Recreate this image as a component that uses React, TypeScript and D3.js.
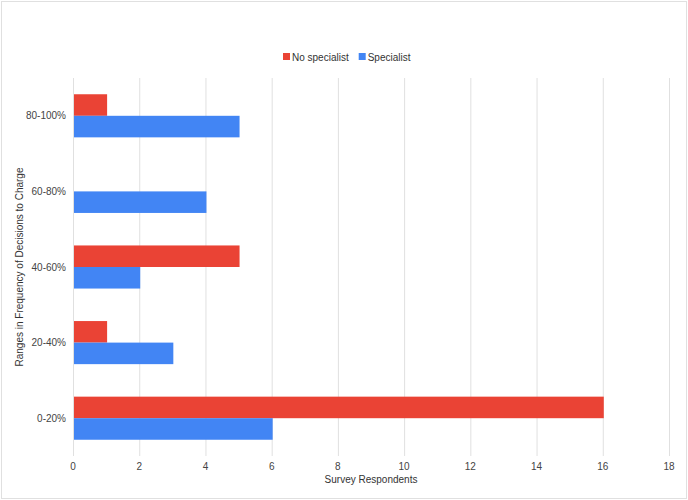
import { useEffect, useRef } from 'react';
import * as d3 from 'd3';

const categories = ['80-100%', '60-80%', '40-60%', '20-40%', '0-20%'];
const seriesNames = ['No specialist', 'Specialist'];
const noSpecialist = [1, 0, 5, 1, 16];
const specialist = [5, 4, 2, 3, 6];
const xTicks = [0, 2, 4, 6, 8, 10, 12, 14, 16, 18];
const colors = ['#ea4335', '#4285f4'];

export default function App() {
    const svgRef = useRef<SVGSVGElement | null>(null);

    useEffect(() => {
        const width = 688;
        const height = 500;
        const margin = { top: 78, right: 19, bottom: 44, left: 73 };
        const innerWidth = width - margin.left - margin.right;
        const innerHeight = height - margin.top - margin.bottom;
        const font = '"Liberation Sans", Arial, sans-serif';

        const svg = d3.select(svgRef.current);
        svg.selectAll('*').remove();

        svg.append('rect')
            .attr('x', 1.5).attr('y', 1.5)
            .attr('width', width - 3).attr('height', height - 3)
            .attr('fill', '#fff')
            .attr('stroke', '#e0e0e0');

        const g = svg.append('g').attr('transform', `translate(${margin.left},${margin.top})`);

        const xScale = d3.scaleLinear().domain([0, 18]).range([0, innerWidth]);
        const yScale = d3.scaleBand<string>()
            .domain(categories)
            .range([0, innerHeight])
            .paddingInner(0.43)
            .paddingOuter(0.215);
        const ySub = d3.scaleBand<string>()
            .domain(seriesNames)
            .range([0, yScale.bandwidth()]);

        // grid lines
        g.selectAll('.grid')
            .data(xTicks)
            .enter()
            .append('line')
            .attr('x1', d => xScale(d) + 0.5)
            .attr('x2', d => xScale(d) + 0.5)
            .attr('y1', 0)
            .attr('y2', innerHeight)
            .attr('stroke', '#e0e0e0')
            .attr('stroke-width', 1);

        // x axis tick labels
        g.selectAll('.xtick')
            .data(xTicks)
            .enter()
            .append('text')
            .attr('x', d => xScale(d))
            .attr('y', innerHeight + 14)
            .attr('text-anchor', 'middle')
            .style('font-family', font)
            .style('font-size', '10px')
            .attr('fill', '#444')
            .text(d => d);

        // y axis labels
        g.selectAll('.ytick')
            .data(categories)
            .enter()
            .append('text')
            .attr('x', -7)
            .attr('y', d => (yScale(d) ?? 0) + yScale.bandwidth() / 2)
            .attr('dy', '0.35em')
            .attr('text-anchor', 'end')
            .style('font-family', font)
            .style('font-size', '10px')
            .attr('fill', '#444')
            .text(d => d);

        const rows = categories.map((c, i) => ({
            cat: c,
            values: [
                { name: seriesNames[0], value: noSpecialist[i], color: colors[0] },
                { name: seriesNames[1], value: specialist[i], color: colors[1] },
            ],
        }));

        const groups = g.selectAll('.cat')
            .data(rows)
            .enter()
            .append('g')
            .attr('transform', d => `translate(0,${yScale(d.cat)})`);

        groups.selectAll('rect')
            .data(d => d.values.filter(v => v.value > 0))
            .enter()
            .append('rect')
            .attr('x', xScale(0) + 1)
            .attr('y', d => ySub(d.name) ?? 0)
            .attr('width', d => xScale(d.value) - xScale(0))
            .attr('height', ySub.bandwidth())
            .attr('fill', d => d.color);

        // axis titles
        svg.append('text')
            .attr('x', margin.left + innerWidth / 2)
            .attr('y', height - 17)
            .attr('text-anchor', 'middle')
            .style('font-family', font)
            .style('font-size', '10px')
            .attr('fill', '#333')
            .text('Survey Respondents');

        svg.append('text')
            .attr('transform', `translate(23,${margin.top + innerHeight / 2}) rotate(-90)`)
            .attr('text-anchor', 'middle')
            .style('font-family', font)
            .style('font-size', '10px')
            .attr('fill', '#333')
            .text('Ranges in Frequency of Decisions to Charge');

        // legend
        const legend = svg.append('g').attr('transform', 'translate(283,57)');
        let lx = 0;
        seriesNames.forEach((name, i) => {
            legend.append('rect')
                .attr('x', lx).attr('y', -4)
                .attr('width', 7).attr('height', 7)
                .attr('fill', colors[i]);
            const t = legend.append('text')
                .attr('x', lx + 9)
                .attr('y', 0)
                .attr('dy', '0.35em')
                .style('font-family', font)
                .style('font-size', '10px')
                .attr('fill', '#333')
                .text(name);
            const w = (t.node() as SVGTextElement).getComputedTextLength();
            lx += 9 + w + 10;
        });
    }, []);

    return (
        <svg
            ref={svgRef}
            width={688}
            height={500}
            style={{ position: 'absolute', left: 0, top: 0 }}
        />
    );
}
